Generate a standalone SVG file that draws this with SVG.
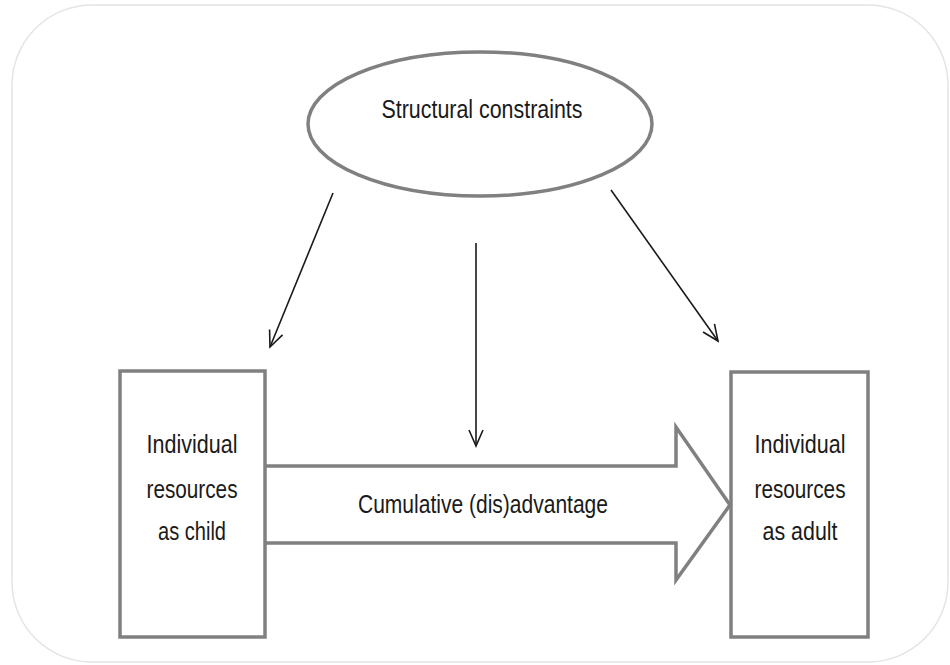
<svg xmlns="http://www.w3.org/2000/svg" width="950" height="665" viewBox="0 0 950 665">
<defs>
<style>
.frame{fill:#fff;stroke:#e4e4e4;stroke-width:1.5}
.shape{fill:#fff;stroke:#808080;stroke-width:3.5}
.conn{fill:none;stroke:#1a1a1a;stroke-width:1.6}
.lbl{font-family:"Liberation Sans",Arial,sans-serif;font-size:25px;fill:#1a1a1a;text-anchor:middle}
</style>
<marker id="open" viewBox="0 0 20 20" refX="18" refY="10" markerWidth="20" markerHeight="20" markerUnits="userSpaceOnUse" orient="auto">
<path d="M2,3 L18,10 L2,17" fill="none" stroke="#1a1a1a" stroke-width="1.6"/>
</marker>
</defs>
<rect width="950" height="665" fill="#fff"/>
<rect class="frame" x="12" y="5" width="936" height="657" rx="80" ry="80"/>
<g id="structural">
<ellipse class="shape" cx="480" cy="124" rx="172" ry="72"/>
<text class="lbl" x="482" y="118" textLength="201" lengthAdjust="spacingAndGlyphs">Structural constraints</text>
</g>
<g id="cumulative">
<path class="shape" d="M265,466 L676,466 L676,427 L730,505 L676,580 L676,543 L265,543"/>
<text class="lbl" x="483" y="513" textLength="250" lengthAdjust="spacingAndGlyphs">Cumulative (dis)advantage</text>
</g>
<g id="child">
<rect class="shape" x="120" y="371" width="145" height="266"/>
<text class="lbl" x="192" y="453" textLength="91" lengthAdjust="spacingAndGlyphs">Individual</text>
<text class="lbl" x="192" y="498" textLength="91" lengthAdjust="spacingAndGlyphs">resources</text>
<text class="lbl" x="192" y="540" textLength="68" lengthAdjust="spacingAndGlyphs">as child</text>
</g>
<g id="adult">
<rect class="shape" x="731" y="372" width="137" height="265"/>
<text class="lbl" x="800" y="453" textLength="91" lengthAdjust="spacingAndGlyphs">Individual</text>
<text class="lbl" x="800" y="498" textLength="91" lengthAdjust="spacingAndGlyphs">resources</text>
<text class="lbl" x="800" y="540" textLength="75" lengthAdjust="spacingAndGlyphs">as adult</text>
</g>
<g id="connectors">
<line class="conn" x1="333" y1="193" x2="270" y2="347" marker-end="url(#open)"/>
<line class="conn" x1="476" y1="243" x2="476" y2="446" marker-end="url(#open)"/>
<line class="conn" x1="611" y1="190" x2="718" y2="341" marker-end="url(#open)"/>
</g>
</svg>
